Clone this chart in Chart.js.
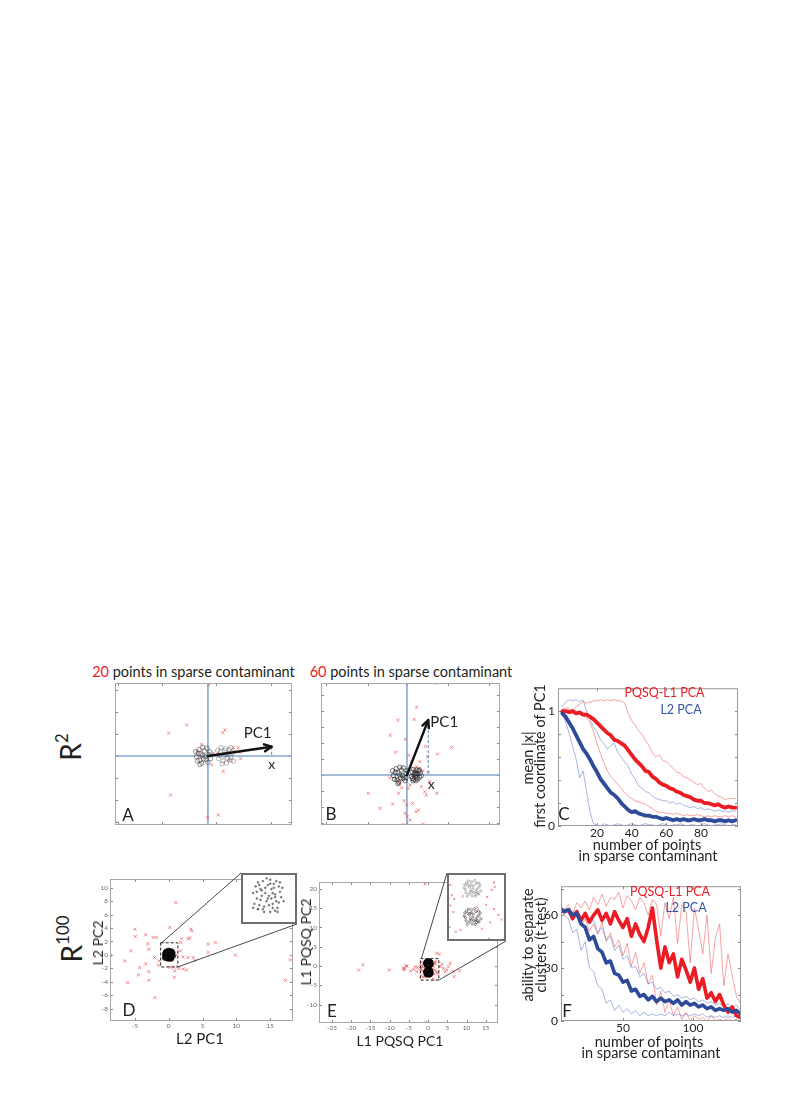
<!DOCTYPE html>
<html>
<head>
<meta charset="utf-8">
<script src="https://cdn.jsdelivr.net/npm/chart.js@4.4.1/dist/chart.umd.min.js"></script>
<style>
  html, body { margin: 0; padding: 0; background: #fff; }
  body { width: 789px; height: 1116px; position: relative; overflow: hidden; font-family: Lato, "Open Sans", sans-serif; color: #231f20; }
  canvas { position: absolute; }
  .lbl { position: absolute; white-space: nowrap; line-height: 1; }
  .lbl sup { font-size: 0.6em; line-height: 0; vertical-align: 0.75em; }
  .r { color: #ec1c24; }
  .b { color: #3553a5; }
</style>
</head>
<body>
<script>
// ---- panel A (R^2, 20 contaminant points)
const aClusterL = [[-0.3,0.05],[-0.55,0.2],[-0.1,-0.25],[-0.45,-0.3],[-0.2,0.35],[0.05,0.1],[-0.65,-0.05],[-0.35,-0.5],[0.0,-0.45],[-0.5,0.45],
  [-0.15,-0.05],[-0.4,0.15],[-0.25,-0.2],[0.1,0.3],[-0.6,-0.35],[-0.05,0.55],[-0.7,0.3],[-0.3,0.6],[0.15,-0.2],[-0.45,-0.6]];
const aClusterR = [[1.0,0.1],[0.7,0.3],[1.3,-0.1],[0.85,-0.35],[1.2,0.45],[0.6,-0.2],[1.4,0.25],[1.05,-0.5],[0.75,0.6],[1.3,0.6],
  [0.9,0.0],[1.15,0.2],[0.65,0.05],[1.45,-0.35],[1.0,0.5],[0.8,-0.55],[1.25,-0.3],[0.55,0.4],[1.1,-0.15],[0.95,0.35]];
const aRed = [[-2.22,1.6],[-1.2,2.18],[-0.36,0.82],[0.83,1.64],[0.96,1.83],[1.43,0.58],[1.71,0.58],[1.81,0.26],[1.85,-0.19],[0.21,-0.63],
  [0.87,-1.08],[-2.11,-2.75],[-0.02,-4.32],[0.58,-4.15],[-0.13,-4.93],[0.04,5.0],[-0.43,-0.1],[0.3,0.2],[-0.6,0.3],[1.2,-0.3]];
const aPC1 = [3.6, 0.65];
const aTicksX = [-5.1, -2.6, 0.45, 3.55];
const aTicksY = [-4.65, -3.1, -1.55, 0, 1.55, 3.1, 4.65];

// ---- panel B (R^2, 60 contaminant points)
const bClusterL = [[-0.4,0],[-0.65,0.2],[-0.2,-0.25],[-0.55,-0.35],[-0.3,0.35],[-0.05,0.1],[-0.75,-0.05],[-0.45,-0.5],[-0.1,-0.4],[-0.6,0.45],
  [-0.25,-0.05],[-0.5,0.15],[-0.35,-0.2],[0.0,0.3],[-0.7,-0.3],[-0.2,0.5],[-0.8,0.3],[-0.4,0.55],[-0.05,-0.2],[-0.5,-0.6]];
const bClusterR = [[0.5,0],[0.3,0.2],[0.7,-0.15],[0.4,-0.3],[0.65,0.3],[0.25,-0.1],[0.75,0.15],[0.5,-0.4],[0.35,0.4],[0.6,-0.3],
  [0.45,0.15],[0.55,0.35],[0.3,-0.25],[0.8,-0.05],[0.5,0.1],[0.4,0.05],[0.6,0.1],[0.7,0.35],[0.35,-0.4],[0.55,-0.2]];
const bRed = [[1.62,6.46],[0.54,4.77],[0.41,3.92],[-0.5,3.87],[-0.93,2.8],[-0.09,2.51],[1.04,2.0],[2.5,1.95],[-0.63,1.6],[1.15,1.29],
  [1.71,1.48],[0.54,0.59],[0.41,0.42],[0.7,0.47],[-0.58,-0.3],[0.17,-0.7],[0.07,-0.94],[1.0,-1.17],[1.66,-1.29],[1.08,-1.41],
  [-2.16,-1.29],[-0.47,-1.29],[-0.15,-1.81],[-0.02,-2.11],[0.32,-2.0],[-0.8,-2.04],[-1.51,-2.35],[0.51,-2.58],[0.64,-2.46],[-0.11,-2.7],
  [0.01,-2.93],[0.17,-3.17],[0.91,-3.45],[-0.2,-3.5],[0.81,-0.82],[1.28,-0.47],[-0.41,-0.59],[0.35,-0.12],[1.19,0.16],[-0.96,-0.2],
  [0.26,0.94],[0.72,0.94],[-0.3,-0.9],[0.9,0.3],[0.1,1.4]];
const bPC1 = [1.19, 3.87];
const bTicksX = [-4.5, -2.2, 0, 2.3, 4.6];
const bTicksY = [-3.4, -2.26, -1.13, 0, 1.13, 2.26, 3.39, 4.52, 5.65];

// ---- panel C (mean |x|, first coordinate of PC1)
const cX = [0,2,4,6,8,10,12,14,16,18,20,22,24,26,28,30,32,34,36,38,40,42,44,46,48,50,52,54,56,58,60,62,64,66,68,70,72,74,76,78,80,82,84,86,88,90,92,94,96,98,100];
const cRedThick = [1.00,1.00,0.99,1.00,0.98,0.99,0.97,0.97,0.95,0.93, 0.90,0.87,0.84,0.81,0.79,0.75,0.74,0.72,0.70,0.66,
  0.62,0.58,0.55,0.52,0.48,0.47,0.43,0.41,0.38,0.36, 0.35,0.33,0.32,0.30,0.29,0.27,0.26,0.25,0.23,0.22,
  0.22,0.20,0.20,0.19,0.18,0.19,0.17,0.16,0.17,0.16, 0.16];
const cRedHi = [1.02,1.03,1.02,1.01,1.04,1.06,1.08,1.07,1.08,1.09, 1.09,1.10,1.09,1.10,1.09,1.10,1.09,1.09,1.07,0.98,
  0.92,0.88,0.83,0.80,0.74,0.70,0.64,0.60,0.62,0.57, 0.56,0.53,0.50,0.47,0.46,0.43,0.42,0.40,0.38,0.36,
  0.37,0.33,0.30,0.31,0.28,0.26,0.25,0.23,0.24,0.24, 0.24];
const cRedLo = [1.00,1.00,0.99,0.98,0.98,0.97,0.96,0.94,0.90,0.82, 0.72,0.63,0.55,0.48,0.43,0.40,0.36,0.33,0.29,0.26,
  0.24,0.22,0.21,0.20,0.19,0.17,0.15,0.13,0.12,0.12, 0.11,0.11,0.10,0.11,0.10,0.09,0.10,0.09,0.09,0.10,
  0.09,0.08,0.09,0.08,0.09,0.08,0.08,0.09,0.08,0.09, 0.08];
const cBlueThick = [0.98,0.95,0.90,0.85,0.79,0.73,0.67,0.63,0.58,0.52, 0.47,0.41,0.37,0.33,0.29,0.27,0.24,0.20,0.17,0.14,
  0.12,0.13,0.11,0.10,0.09,0.09,0.08,0.08,0.07,0.06, 0.07,0.06,0.05,0.06,0.05,0.06,0.05,0.05,0.06,0.05,
  0.05,0.06,0.05,0.05,0.04,0.05,0.05,0.04,0.05,0.04, 0.05];
const cBlueHi = [1.04,1.08,1.10,1.09,1.10,1.08,1.10,1.00,0.93,0.86, 0.82,0.75,0.72,0.67,0.70,0.72,0.64,0.60,0.56,0.52,
  0.45,0.41,0.35,0.33,0.30,0.29,0.26,0.24,0.23,0.22, 0.22,0.20,0.21,0.19,0.20,0.18,0.17,0.16,0.17,0.15,
  0.16,0.14,0.15,0.14,0.13,0.14,0.13,0.13,0.12,0.13, 0.13];
const cBlueLo = [0.97,0.90,0.80,0.69,0.58,0.42,0.48,0.30,0.12,0.02, 0.01,0.00,0.02,0.01,0.00,0.01,0.02,0.01,0.00,0.01,
  0.02,0.01,0.00,0.01,0.02,0.01,0.01,0.00,0.01,0.02, 0.01,0.00,0.01,0.01,0.02,0.01,0.00,0.01,0.01,0.00,
  0.01,0.02,0.01,0.00,0.01,0.01,0.02,0.01,0.00,0.01, 0.01];
const cTicksX = [20, 40, 60, 80];
const cTicksY = [0, 0.2, 0.4, 0.6, 0.8, 1];
const cLabelsY = [0, 1];

// ---- panel D (R^100, L2 PCA projection)
const dCluster = [[0.05,0.0],[-0.3,0.25],[0.35,-0.2],[-0.15,-0.4],[0.25,0.45],[-0.45,-0.1],[0.5,0.15],[0.1,-0.6],[-0.2,0.55],[0.4,-0.45],
  [-0.5,0.35],[0.15,0.25],[-0.1,0.1],[0.3,0.05],[-0.35,-0.35],[0.55,-0.05],[-0.05,-0.2],[0.2,-0.3],[-0.25,0.0],[0.0,0.4],
  [0.45,0.35],[-0.4,0.5],[0.1,0.6],[-0.55,-0.3],[0.3,-0.55],[-0.15,-0.6],[0.6,0.3],[-0.6,0.1],[0.2,0.1],[-0.3,-0.15],
  [0.05,-0.35],[0.35,0.55],[-0.1,0.3],[0.45,-0.25],[-0.45,0.15],[0.15,-0.1],[-0.2,-0.5],[0.25,0.3],[-0.35,0.4],[0.0,-0.1],
  [0.5,0.5],[-0.05,0.65],[0.4,-0.6],[-0.6,-0.45],[0.2,-0.45],[-0.25,0.2],[0.1,0.45],[0.3,-0.05],[-0.4,-0.5],[0.65,-0.2]];
const dRed = [[1.04,7.8],[-5.0,3.83],[0.15,4.08],[-4.95,2.74],[-3.41,2.99],[-2.32,2.59],[-1.83,2.59],[-3.12,1.64],[-2.96,0.85],[-5.63,0.6],
  [-8.64,-0.1],[-6.52,-0.9],[-4.3,-1.9],[-3.41,-1.34],[-2.96,-2.49],[-4.49,-2.99],[-6.1,-4.13],[-2.96,-3.78],[-2.07,-6.37],[0.84,-3.33],
  [0.89,-2.39],[-2.12,-0.4],[-1.43,-0.9],[-1.53,-1.54],[1.88,2.39],[1.78,1.84],[2.86,2.39],[3.1,2.54],[3.26,3.83],[3.41,3.58],
  [1.73,0.6],[2.12,-0.3],[2.86,-0.4],[3.6,-0.4],[3.85,-0.85],[2.12,-2.09],[2.62,-2.24],[0.79,-1.84],[0.15,-1.84],[5.83,1.59],
  [6.91,1.84],[5.83,0.35],[9.88,-0.05],[18.0,-0.75],[17.3,-3.8],[1.48,-1.99],[-0.41,-0.49],[1.15,0.03]];
const dBox = [-1.2, 1.35, -1.8, 1.8];
const dTicksX = [-5, 0, 5, 10, 15];
const dTicksY = [-8, -6, -4, -2, 0, 2, 4, 6, 8, 10];
const dInsetX = [-1.1, 1.2];
const dInsetY = [-1.05, 0.85];

// ---- panel E (R^100, L1 PQSQ PCA projection)
const eClusterU = [[0.1,0.6],[-0.3,0.9],[0.5,0.3],[-0.2,0.2],[0.35,1.05],[-0.5,0.55],[0.6,0.75],[0.0,1.2],[-0.35,0.0],[0.3,0.0],
  [0.75,0.45],[-0.55,0.95],[0.15,0.85],[-0.1,0.45],[0.45,0.6],[-0.25,1.25],[0.2,0.3],[-0.45,0.3],[0.55,1.1],[0.05,0.05],
  [-0.15,0.75],[0.35,0.4],[0.7,0.95],[-0.6,0.7],[0.25,1.3],[-0.05,0.95],[0.4,0.15],[-0.4,1.1],[0.6,0.2],[0.0,0.35]];
const eClusterL = [[0.1,-1.7],[-0.3,-1.4],[0.5,-2.0],[-0.2,-2.1],[0.35,-1.25],[-0.5,-1.75],[0.6,-1.55],[0.0,-1.1],[-0.35,-2.3],[0.3,-2.3],
  [0.75,-1.85],[-0.55,-1.35],[0.15,-1.45],[-0.1,-1.85],[0.45,-1.7],[-0.25,-1.05],[0.2,-2.0],[-0.45,-2.0],[0.55,-1.2],[0.05,-2.25],
  [-0.15,-1.55],[0.35,-1.9],[0.7,-1.35],[-0.6,-1.6],[0.25,-1.0],[-0.05,-1.35],[0.4,-2.15],[-0.4,-1.2],[0.6,-2.1],[0.0,-1.95]];
const eRed = [[-0.78,21.3],[-17.0,0.26],[-18.1,-1.04],[-10.1,-1.04],[-5.73,0],[-6.16,-0.6],[-6.3,-1.0],[-3.39,-0.17],[-2.95,-1.48],[-2.8,-0.4],
  [2.26,3.3],[2.95,3.04],[1.82,1.13],[3.12,-0.17],[3.99,-0.61],[4.86,-1.04],[5.73,0.69],[5.3,-0.17],[6.6,-1.48],[6.77,-2.78],
  [8.16,-1.22],[1.39,-3.47],[2.43,-1.91],[4.43,-1.48],[3.56,0.52],[-0.52,-14.6],[-6.4,-0.6],[-5.5,0.0],[-3.8,-0.9],[-4.6,-1.3]];
const eRedInner = [[-1.73,0.93],[-1.9,-0.14],[-1.61,0.11],[-1.41,-0.23],[-1.73,-0.75],[-1.95,-0.69],[-1.48,-1.3],[-1.28,-2.89],[-1.8,-2.52],[-0.73,0.01],
  [-0.11,-1.36],[0.47,-0.9],[1.27,-0.05],[1.64,0.53],[1.89,0.78],[1.19,-0.69],[1.84,-1.05],[2.2,-1.52],[1.52,-2.13],[0.84,-2.65],
  [0.32,-1.97],[-0.9,-2.74]];
const eBox = [-2.0, 2.8, -3.66, 1.91];
const eTicksX = [-25, -20, -15, -10, -5, 0, 5, 10, 15];
const eTicksY = [-10, -5, 0, 5, 10, 15, 20];

// ---- panel F (ability to separate clusters, t-test)
const fX = [5,8,11,14,17,20,23,26,29,32,35, 38,41,44,47,50,53,56,59,62,65,68, 71,74,77,80,83,86,89,92,95,98,101, 104,107,110,113,116,119,122,125,128,131,134];
const fBlueThick = [64,62,63,60,61,55,53,46,48,41,39, 33,34,27,26,22,23,17,18,14,15,12, 14,11,13,11,12,10,12,9,11,9,10, 8,9,7,8,6,7,6,7,5,6,4];
const fRedThick = [64,62,63,58,62,57,61,56,60,63,57, 61,55,62,57,53,58,48,55,49,45,53, 64,46,30,42,33,38,25,35,29,22,30, 18,24,13,16,11,15,9,5,8,3,2];
const fRedHi = [65,63,66,61,67,64,68,63,70,66,72, 65,70,69,73,64,71,68,63,70,67,60, 69,66,48,67,58,70,44,66,62,33,64, 52,38,60,27,47,55,20,38,26,14,10];
const fRedLo = [63,61,62,57,60,54,58,51,55,49,56, 45,50,42,46,37,44,31,39,27,33,21, 26,9,17,5,12,3,8,1,5,0,3, 1,2,0,3,0,1,0,2,0,1,0];
const fBlueHi = [64,63,64,61,63,58,60,55,57,50,53, 46,48,40,43,35,37,30,31,25,27,21, 22,18,19,16,17,14,15,13,14,12,13, 11,12,10,11,9,10,8,10,7,9,6];
const fBlueLo = [63,60,58,50,52,40,45,30,28,20,18, 10,12,6,9,5,7,4,6,3,5,3, 4,3,4,3,5,3,4,3,4,3,4, 3,4,2,3,2,3,2,3,2,3,2];
const fTicksX = [50, 100];
const fTicksY = [0, 15, 30, 45, 60, 75];
const fLabelsY = [0, 30, 60];

// ---- colours
const RED = "#ec1c24";
const BLUE = "#2e4b9b";
const RED_THIN = "rgba(240,90,90,0.55)";
const BLUE_THIN = "rgba(80,110,200,0.5)";
const CROSS = "rgba(235,85,85,0.75)";

Chart.defaults.font.family = "Lato";

// page positions of the two zoom insets
const insetD = { x0: 241, y0: 873, x1: 297, y1: 924 };
const insetE = { x0: 447, y0: 873, x1: 506, y1: 941 };

function place(id, b) {
  const c = document.createElement("canvas");
  c.id = id;
  c.width = b.w;
  c.height = b.h;
  c.style.left = b.x + "px";
  c.style.top = b.y + "px";
  c.style.width = b.w + "px";
  c.style.height = b.h + "px";
  document.body.appendChild(c);
  return c;
}

function axis(min, max, ticks, opts = {}) {
  return {
    type: "linear",
    min,
    max,
    grid: { display: false, drawTicks: false },
    border: { display: false },
    ticks: {
      display: !!opts.labels,
      autoSkip: false,
      maxRotation: 0,
      padding: opts.pad ?? 2,
      color: opts.color || "#231f20",
      font: { size: opts.size || 12 },
      callback: v => (opts.labels === true || (Array.isArray(opts.labels) && opts.labels.includes(v))) ? String(v) : ""
    },
    afterBuildTicks: a => { a.ticks = ticks.map(v => ({ value: v })); },
    afterFit: a => {
      if (opts.w !== undefined) a.width = opts.w;
      if (opts.h !== undefined) a.height = opts.h;
    }
  };
}

function pts(arr) {
  return arr.map(([x, y]) => ({ x, y }));
}

function circles(arr, color, r, fill, bw) {
  return { data: pts(arr), pointStyle: "circle", pointRadius: r, borderColor: color, backgroundColor: fill || "rgba(0,0,0,0)", borderWidth: bw || 0.8 };
}

function crosses(arr, r) {
  return { data: pts(arr), pointStyle: "crossRot", pointRadius: r || 2.2, borderColor: CROSS, borderWidth: 0.9 };
}

function line(xs, ys, color, width) {
  return {
    data: xs.map((x, i) => ({ x, y: ys[i] })),
    showLine: true, pointRadius: 0, borderColor: color, borderWidth: width,
    tension: 0, borderJoinStyle: "round", borderCapStyle: "round"
  };
}

function options(padding, scales, plugins) {
  return {
    responsive: false,
    animation: false,
    events: [],
    layout: { padding, autoPadding: false },
    scales,
    plugins: Object.assign({ legend: { display: false }, tooltip: { enabled: false } }, plugins)
  };
}

// box round the plot with small inward tick marks
const framePlugin = {
  id: "frame",
  beforeDatasetsDraw(chart, args, o) {
    const { ctx, chartArea: a, scales } = chart;
    ctx.save();
    if (o.fill) {
      ctx.fillStyle = o.fill;
      ctx.fillRect(a.left, a.top, a.right - a.left, a.bottom - a.top);
    }
    const len = o.tick ?? 3;
    if (len) {
      ctx.strokeStyle = o.tickColor || "#8a8a8a";
      ctx.lineWidth = 1;
      ctx.beginPath();
      scales.x.ticks.forEach(t => {
        const p = Math.round(scales.x.getPixelForValue(t.value)) + 0.5;
        ctx.moveTo(p, a.bottom); ctx.lineTo(p, a.bottom - len);
        ctx.moveTo(p, a.top); ctx.lineTo(p, a.top + len);
      });
      scales.y.ticks.forEach(t => {
        const p = Math.round(scales.y.getPixelForValue(t.value)) + 0.5;
        ctx.moveTo(a.left, p); ctx.lineTo(a.left + len, p);
        ctx.moveTo(a.right, p); ctx.lineTo(a.right - len, p);
      });
      ctx.stroke();
    }
    ctx.restore();
  },
  afterDatasetsDraw(chart, args, o) {
    const { ctx, chartArea: a } = chart;
    const w = o.width || 1;
    ctx.save();
    ctx.strokeStyle = o.color || "#a0a0a0";
    ctx.lineWidth = w;
    ctx.strokeRect(a.left + w / 2, a.top + w / 2, a.right - a.left - w, a.bottom - a.top - w);
    ctx.restore();
  }
};

// coordinate axes, PC1 arrow and its projection for panels A and B
const pcaPlugin = {
  id: "pca",
  beforeDatasetsDraw(chart) {
    const { ctx, chartArea: a, scales: { x, y } } = chart;
    const x0 = x.getPixelForValue(0), y0 = y.getPixelForValue(0);
    ctx.save();
    ctx.strokeStyle = "#86a8d4";
    ctx.lineWidth = 1.6;
    ctx.beginPath();
    ctx.moveTo(a.left, y0); ctx.lineTo(a.right, y0);
    ctx.moveTo(x0, a.top); ctx.lineTo(x0, a.bottom);
    ctx.stroke();
    ctx.restore();
  },
  afterDatasetsDraw(chart, args, o) {
    const { ctx, scales: { x, y } } = chart;
    const x0 = x.getPixelForValue(0), y0 = y.getPixelForValue(0);
    const tx = x.getPixelForValue(o.tip[0]), ty = y.getPixelForValue(o.tip[1]);
    ctx.save();
    ctx.strokeStyle = "#5b86c8";
    ctx.lineWidth = 1;
    ctx.setLineDash([3, 2]);
    ctx.beginPath(); ctx.moveTo(tx, ty); ctx.lineTo(tx, y0); ctx.stroke();
    ctx.setLineDash([]);
    ctx.strokeStyle = "#111";
    ctx.lineWidth = 2.4;
    ctx.lineCap = "round";
    ctx.lineJoin = "round";
    ctx.beginPath(); ctx.moveTo(x0, y0); ctx.lineTo(tx, ty); ctx.stroke();
    const ang = Math.atan2(ty - y0, tx - x0), h = 8;
    ctx.beginPath();
    ctx.moveTo(tx - h * Math.cos(ang - 0.45), ty - h * Math.sin(ang - 0.45));
    ctx.lineTo(tx, ty);
    ctx.lineTo(tx - h * Math.cos(ang + 0.45), ty - h * Math.sin(ang + 0.45));
    ctx.stroke();
    ctx.fillStyle = "#231f20";
    ctx.textAlign = "center";
    ctx.textBaseline = "middle";
    ctx.font = "15px Lato";
    ctx.fillText("PC1", tx + o.pcOff[0], ty + o.pcOff[1]);
    ctx.font = "14px Lato";
    ctx.fillText("x", tx + o.xOff[0], y0 + o.xOff[1]);
    ctx.restore();
  }
};

// dashed zoom box with lines out to the inset
const zoomPlugin = {
  id: "zoomBox",
  afterDatasetsDraw(chart, args, o) {
    const { ctx, scales: { x, y } } = chart;
    const L = x.getPixelForValue(o.box[0]), R = x.getPixelForValue(o.box[1]);
    const B = y.getPixelForValue(o.box[2]), T = y.getPixelForValue(o.box[3]);
    ctx.save();
    ctx.strokeStyle = "#222";
    ctx.lineWidth = 1;
    ctx.setLineDash([3, 2]);
    ctx.strokeRect(L, T, R - L, B - T);
    ctx.setLineDash([]);
    ctx.strokeStyle = "#333";
    ctx.lineWidth = 0.9;
    ctx.beginPath();
    ctx.moveTo(L + 1, T);
    ctx.lineTo(o.inset.x0 - o.at[0], o.inset.y0 - o.at[1]);
    ctx.moveTo(R, B);
    ctx.lineTo(o.inset.x1 - o.at[0], o.inset.y1 - o.at[1]);
    ctx.stroke();
    ctx.restore();
  }
};

// ---- A
new Chart(place("chartA", { x: 113, y: 681, w: 182, h: 147 }), {
  type: "scatter",
  data: { datasets: [
    circles(aClusterL, "rgba(40,40,40,0.6)", 2.2),
    circles(aClusterR, "rgba(60,60,60,0.45)", 2.2),
    crosses(aRed)
  ] },
  options: options({ left: 2, top: 2, right: 3, bottom: 3 }, {
    x: axis(-5.25, 4.75, aTicksX, { h: 0 }),
    y: axis(-4.86, 5.14, aTicksY, { w: 0 })
  }, {
    frame: { color: "#a8a8a8" },
    pca: { tip: aPC1, pcOff: [-14, -14], xOff: [0, 8] }
  }),
  plugins: [framePlugin, pcaPlugin]
});

// ---- B
new Chart(place("chartB", { x: 319, y: 681, w: 184, h: 147 }), {
  type: "scatter",
  data: { datasets: [
    circles(bClusterL, "rgba(20,20,20,0.75)", 2.2),
    circles(bClusterR, "rgba(20,20,20,0.7)", 2.2),
    crosses(bRed)
  ] },
  options: options({ left: 2, top: 2, right: 3, bottom: 3 }, {
    x: axis(-4.8, 5.2, bTicksX, { h: 0 }),
    y: axis(-3.52, 6.48, bTicksY, { w: 0 })
  }, {
    frame: { color: "#a8a8a8" },
    pca: { tip: bPC1, pcOff: [16, 2], xOff: [3, 9] }
  }),
  plugins: [framePlugin, pcaPlugin]
});

// ---- C
new Chart(place("chartC", { x: 522, y: 678, w: 222, h: 162 }), {
  type: "scatter",
  data: { datasets: [
    line(cX, cBlueThick, BLUE, 3.8),
    line(cX, cRedThick, RED, 3.8),
    line(cX, cBlueHi, BLUE_THIN, 1),
    line(cX, cBlueLo, BLUE_THIN, 1),
    line(cX, cRedHi, RED_THIN, 1),
    line(cX, cRedLo, RED_THIN, 1)
  ] },
  options: options({ left: 0, top: 4, right: 6, bottom: 0 }, {
    x: axis(-2.5, 101.4, cTicksX, { h: 14, labels: true, pad: 0, size: 12 }),
    y: axis(0, 1.2, cTicksY, { w: 36, labels: cLabelsY, pad: 3, size: 12 })
  }, {
    frame: { color: "#9a9a9a" }
  }),
  plugins: [framePlugin]
});

// ---- D
new Chart(place("chartD", { x: 90, y: 866, w: 215, h: 166 }), {
  type: "scatter",
  data: { datasets: [
    circles(dCluster, "rgba(0,0,0,0.85)", 2.4, "rgba(20,20,20,0.6)"),
    crosses(dRed)
  ] },
  options: options({ left: 0, top: 13, right: 12, bottom: 0 }, {
    x: axis(-8.7, 18.4, dTicksX, { h: 11, labels: true, pad: 1, size: 6.5, color: "#6a6a6a" }),
    y: axis(-9.85, 11.3, dTicksY, { w: 20, labels: true, pad: 2, size: 6.5, color: "#6a6a6a" })
  }, {
    frame: { color: "#a8a8a8" },
    zoomBox: { box: dBox, inset: insetD, at: [90, 866] }
  }),
  plugins: [framePlugin, zoomPlugin]
});

// ---- D inset
new Chart(place("insetD", { x: 240, y: 872, w: 58, h: 53 }), {
  type: "scatter",
  data: { datasets: [
    circles(dCluster, "rgba(40,40,40,0.75)", 0.9, "rgba(60,60,60,0.5)", 0.6),
    crosses(dRed, 1.4)
  ] },
  options: options(1, {
    x: axis(dInsetX[0], dInsetX[1], [], { h: 0 }),
    y: axis(dInsetY[0], dInsetY[1], [], { w: 0 })
  }, {
    frame: { fill: "#fff", tick: 0, color: "#6e6e6e", width: 2 }
  }),
  plugins: [framePlugin]
});

// ---- E
new Chart(place("chartE", { x: 299, y: 866, w: 214, h: 168 }), {
  type: "scatter",
  data: { datasets: [
    circles(eClusterU, "rgba(0,0,0,0.85)", 2.4, "rgba(20,20,20,0.6)"),
    circles(eClusterL, "rgba(0,0,0,0.85)", 2.4, "rgba(20,20,20,0.6)"),
    crosses(eRedInner),
    crosses(eRed)
  ] },
  options: options({ left: 0, top: 16, right: 15, bottom: 0 }, {
    x: axis(-28.4, 18.2, eTicksX, { h: 11, labels: true, pad: 1, size: 6.5, color: "#6a6a6a" }),
    y: axis(-14.8, 21.8, eTicksY, { w: 20, labels: true, pad: 2, size: 6.5, color: "#6a6a6a" })
  }, {
    frame: { color: "#a8a8a8" },
    zoomBox: { box: eBox, inset: insetE, at: [299, 866] }
  }),
  plugins: [framePlugin, zoomPlugin]
});

// ---- E inset
new Chart(place("insetE", { x: 446, y: 872, w: 61, h: 70 }), {
  type: "scatter",
  data: { datasets: [
    circles(eClusterU, "rgba(90,90,90,0.6)", 1.1, null, 0.7),
    circles(eClusterL, "rgba(40,40,40,0.75)", 1.1, null, 0.7),
    crosses(eRedInner, 1.4),
    crosses(eRed, 1.4)
  ] },
  options: options(1, {
    x: axis(eBox[0], eBox[1], [], { h: 0 }),
    y: axis(eBox[2], eBox[3], [], { w: 0 })
  }, {
    frame: { fill: "#fff", tick: 0, color: "#6e6e6e", width: 2 }
  }),
  plugins: [framePlugin]
});

// ---- F
new Chart(place("chartF", { x: 522, y: 876, w: 225, h: 159 }), {
  type: "scatter",
  data: { datasets: [
    line(fX, fBlueThick, BLUE, 3.6),
    line(fX, fRedThick, RED, 3.6),
    line(fX, fBlueHi, BLUE_THIN, 1),
    line(fX, fBlueLo, BLUE_THIN, 1),
    line(fX, fRedHi, RED_THIN, 1),
    line(fX, fRedLo, RED_THIN, 1)
  ] },
  options: options({ left: 0, top: 4, right: 6, bottom: 0 }, {
    x: axis(5.7, 134.3, fTicksX, { h: 14, labels: true, pad: 0, size: 12 }),
    y: axis(0, 76.4, fTicksY, { w: 39, labels: fLabelsY, pad: 3, size: 12 })
  }, {
    frame: { color: "#9a9a9a" }
  }),
  plugins: [framePlugin]
});

// ---- text
function addText(html, x, y, size, rotate) {
  const el = document.createElement("div");
  el.className = "lbl";
  el.innerHTML = html;
  el.style.left = x + "px";
  el.style.top = y + "px";
  el.style.fontSize = size + "px";
  el.style.transform = "translate(-50%,-50%)" + (rotate ? ` rotate(${rotate}deg)` : "");
  document.body.appendChild(el);
}

addText('<span class="r">20</span> points in sparse contaminant', 193.5, 672, 14.5);
addText('<span class="r">60</span> points in sparse contaminant', 411, 672, 14.5);
addText("R<sup>2</sup>", 70, 747, 28, -90);
addText("R<sup>100</sup>", 71, 939, 28, -90);

addText("A", 128, 814, 17);
addText("B", 331, 813, 17);
addText("C", 564, 813, 17);
addText("D", 129, 1009, 17);
addText("E", 332, 1010, 17);
addText("F", 567, 1010, 17);

addText("mean |x|", 528, 758, 14.5, -90);
addText("first coordinate of PC1", 540, 756, 14.5, -90);
addText("number of points", 647, 845, 14.5);
addText("in sparse contaminant", 648, 856, 14.5);
addText('<span class="r">PQSQ-L1 PCA</span>', 664.5, 693, 12.5);
addText('<span class="b">L2 PCA</span>', 681, 710, 12.5);

addText("ability to separate", 528, 945, 14.5, -90);
addText("clusters (t-test)", 541, 945, 14.5, -90);
addText("number of points", 649, 1042, 14.5);
addText("in sparse contaminant", 651, 1053, 14.5);
addText('<span class="r">PQSQ-L1 PCA</span>', 670, 892, 12.5);
addText('<span class="b">L2 PCA</span>', 686, 908, 12.5);

addText("L2 PC2", 98, 943, 14, -90);
addText("L2 PC1", 200, 1038, 15);
addText("L1 PQSQ PC2", 306, 942, 14, -90);
addText("L1 PQSQ PC1", 400, 1041, 14);
</script>
</body>
</html>
